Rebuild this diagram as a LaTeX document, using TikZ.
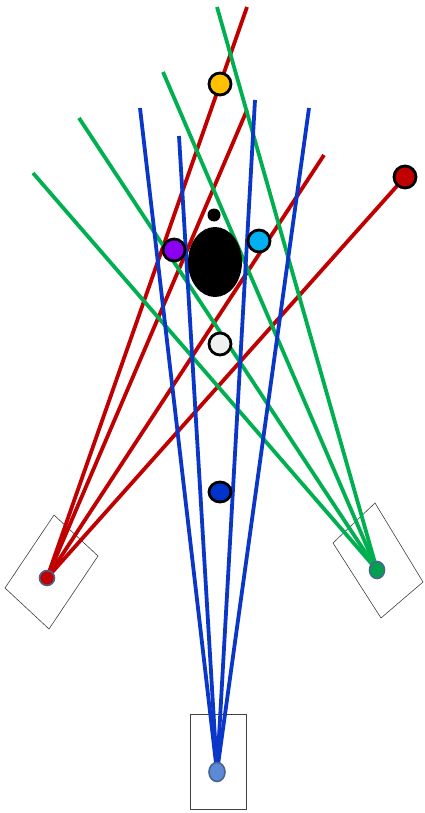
\documentclass[tikz,border=0pt]{standalone}
\usepackage{tikz}
\usetikzlibrary{backgrounds,shapes.geometric}
\definecolor{RayRed}{HTML}{C00000}
\definecolor{RayGreen}{HTML}{00B050}
\definecolor{RayBlue}{HTML}{0A37C8}
\definecolor{BallYellow}{HTML}{FFC000}
\definecolor{BallPurple}{HTML}{8B00F0}
\definecolor{BallCyan}{HTML}{00B0F0}
\definecolor{BallWhite}{HTML}{F0F0F0}
\definecolor{BallBlue}{HTML}{0033CC}
\definecolor{SrcRim}{HTML}{4A6490}
\definecolor{SrcBlue}{HTML}{5B8BD6}
\definecolor{SrcGreen}{HTML}{00A050}

\begin{document}
\begin{tikzpicture}[x=1pt,y=-1pt,
  ray/.style={line width=3.8pt},
  ball/.style={circle,draw=black,line width=2.8pt,inner sep=0pt,minimum size=22pt},
  src/.style={ellipse,draw=SrcRim,line width=1.6pt,inner sep=0pt},
  camera/.style={draw=black!75,line width=0.6pt}]
\path[use as bounding box] (0,0) rectangle (424,813);

% objects
\node[ball,fill=BallYellow] (yellow) at (220,84) {};
\node[ball,fill=RayRed] (redball) at (405,177) {};
\node[circle,fill=black,inner sep=0pt,minimum size=13pt] (dot) at (214,215) {};
\node[ellipse,fill=black,inner sep=0pt,minimum width=54pt,minimum height=70pt] (big) at (215,262) {};
\node[ball,fill=BallPurple] (purple) at (174,250) {};
\node[ball,fill=BallCyan] (cyan) at (259,241) {};
\node[ball,fill=BallWhite] (white) at (220,344) {};
\node[ball,fill=BallBlue,minimum width=22pt,minimum height=20pt,ellipse] (blueball) at (220,492) {};

% sources
\node[src,fill=RayRed,minimum width=15pt,minimum height=15pt] (srcR) at (47,578) {};
\node[src,fill=SrcGreen,minimum width=15pt,minimum height=17pt] (srcG) at (377,570) {};
\node[src,fill=SrcBlue,minimum width=16pt,minimum height=19pt] (srcB) at (217,772) {};

% ray ends
\coordinate (r1) at (247,7);
\coordinate (r2) at (247,110);
\coordinate (r3) at (324,155);
\coordinate (g1) at (217,7);
\coordinate (g2) at (163,72);
\coordinate (g3) at (79,118);
\coordinate (g4) at (33,173);
\coordinate (b1) at (140,108);
\coordinate (b2) at (179,136);
\coordinate (b3) at (255,100);
\coordinate (b4) at (309,108);

\begin{scope}[on background layer]
% camera frames
\draw[camera] (54,515) -- (98,556) -- (49,629) -- (5,588) -- cycle;
\draw[camera] (375,503) -- (423,582) -- (381,618) -- (333,543) -- cycle;
\draw[camera] (190,714) rectangle (246,809);
\foreach \e in {r1,r2,r3,redball.center}
  \draw[ray,RayRed] (srcR.center) -- (\e);
\foreach \e in {g1,g2,g3,g4}
  \draw[ray,RayGreen] (srcG.center) -- (\e);
\foreach \e in {b1,b2,b3,b4}
  \draw[ray,RayBlue] (srcB.center) -- (\e);
\end{scope}
\end{tikzpicture}
\end{document}
